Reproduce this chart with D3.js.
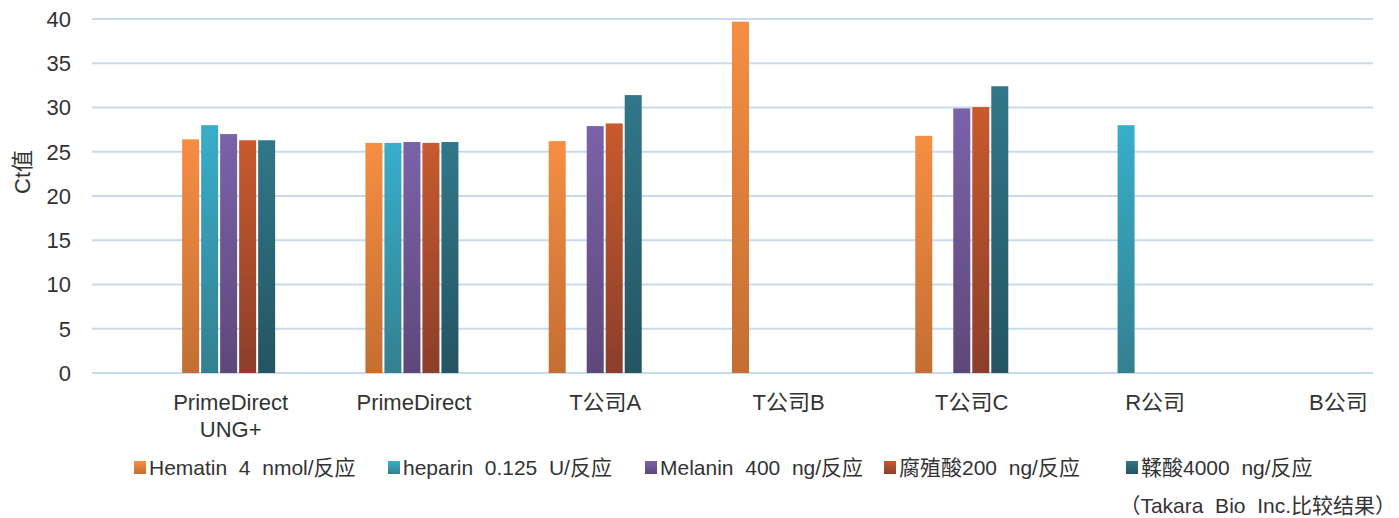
<!DOCTYPE html>
<html>
<head>
<meta charset="utf-8">
<script src="https://cdn.jsdelivr.net/npm/d3@7"></script>
<style>
  body { margin: 0; background: #fff; }
  text { font-family: "Liberation Sans", "Noto Sans CJK SC", sans-serif; fill: #333; }
</style>
</head>
<body>
<svg id="chart" width="1399" height="518"></svg>
<script>
// data
var categories = ["PrimeDirect UNG+", "PrimeDirect", "T公司A", "T公司B", "T公司C", "R公司", "B公司"];
var seriesNames = ["Hematin  4  nmol/反应", "heparin  0.125  U/反应", "Melanin  400  ng/反应", "腐殖酸200  ng/反应", "鞣酸4000  ng/反应"];
var hematin  = [26.4, 26.0, 26.2, 39.7, 26.8, null, null];
var heparin  = [28.0, 26.0, null, null, null, 28.0, null];
var melanin  = [27.0, 26.1, 27.9, null, 29.9, null, null];
var humic    = [26.3, 26.0, 28.2, null, 30.05, null, null];
var tannic   = [26.3, 26.1, 31.4, null, 32.4, null, null];
var yTicks = [0, 5, 10, 15, 20, 25, 30, 35, 40];

var seriesValues = [hematin, heparin, melanin, humic, tannic];
var colors = [
    ["#F68E42", "#C36E33"],
    ["#38AECB", "#33808F"],
    ["#7A62AA", "#5E4879"],
    ["#C85A2D", "#8B3E2A"],
    ["#317789", "#245462"]
];

var svg = d3.select("#chart");

var gridLeft = 92, gridRight = 1373;
var y = d3.scaleLinear().domain([0, 40]).range([373, 19]);
var x0 = d3.scaleBand().domain(categories).range([137, 1420]);
var x1 = d3.scaleBand().domain(d3.range(seriesNames.length)).range([-46.5, 46.5]).paddingInner(0.105);

// gradients
var defs = svg.append("defs");
colors.forEach(function (c, i) {
    var g = defs.append("linearGradient")
        .attr("id", "grad" + i)
        .attr("x1", 0).attr("y1", 0).attr("x2", 0).attr("y2", 1);
    g.append("stop").attr("offset", "0%").attr("stop-color", c[0]);
    g.append("stop").attr("offset", "100%").attr("stop-color", c[1]);
});

// gridlines
svg.append("g").selectAll("line")
    .data(yTicks)
    .enter()
    .append("line")
    .attr("x1", gridLeft)
    .attr("x2", gridRight)
    .attr("y1", function (d) { return y(d); })
    .attr("y2", function (d) { return y(d); })
    .attr("stroke", "#C8DAEB")
    .attr("stroke-width", 2);

// y tick labels
svg.append("g").selectAll("text")
    .data(yTicks)
    .enter()
    .append("text")
    .attr("x", 71)
    .attr("y", function (d) { return y(d); })
    .attr("dy", "0.36em")
    .attr("text-anchor", "end")
    .style("font-size", "22px")
    .text(function (d) { return d; });

// y axis title
svg.append("text")
    .attr("transform", "translate(30,172) rotate(-90)")
    .attr("text-anchor", "middle")
    .style("font-size", "22px")
    .text("Ct值");

// bars
var groups = svg.append("g").selectAll("g")
    .data(categories)
    .enter()
    .append("g")
    .attr("transform", function (d) { return "translate(" + (x0(d) + x0.bandwidth() / 2) + ",0)"; });

groups.selectAll("rect")
    .data(function (d, ci) {
        return seriesValues.map(function (vals, si) { return { s: si, v: vals[ci] }; })
            .filter(function (e) { return e.v != null; });
    })
    .enter()
    .append("rect")
    .attr("x", function (d) { return x1(d.s); })
    .attr("width", x1.bandwidth())
    .attr("y", function (d) { return y(d.v); })
    .attr("height", function (d) { return y(0) - y(d.v); })
    .attr("fill", function (d) { return "url(#grad" + d.s + ")"; });

// category labels
svg.append("g").selectAll("text")
    .data(categories)
    .enter()
    .append("text")
    .attr("x", function (d) { return x0(d) + x0.bandwidth() / 2 + (/公司/.test(d) ? 10 : 2); })
    .attr("y", 410)
    .attr("text-anchor", "middle")
    .style("font-size", "22px")
    .each(function (d) {
        var t = d3.select(this);
        var parts = d === "PrimeDirect UNG+" ? ["PrimeDirect", "UNG+"] : [d];
        parts.forEach(function (p, i) {
            t.append("tspan")
                .attr("x", t.attr("x"))
                .attr("dy", i === 0 ? 0 : 27)
                .text(p);
        });
    });

// legend
var legendX = [134, 388, 645, 884, 1126];
var legend = svg.append("g").selectAll("g")
    .data(seriesNames)
    .enter()
    .append("g")
    .attr("transform", function (d, i) { return "translate(" + legendX[i] + ",461)"; });

legend.append("rect")
    .attr("width", 12)
    .attr("height", 13)
    .attr("fill", function (d, i) { return "url(#grad" + i + ")"; });

legend.append("text")
    .attr("x", 15)
    .attr("y", 14)
    .style("font-size", "21px")
    .style("white-space", "pre")
    .text(function (d) { return d; });

// source note
svg.append("text")
    .attr("x", 1396)
    .attr("y", 513)
    .attr("text-anchor", "end")
    .style("font-size", "21px")
    .style("white-space", "pre")
    .text("（Takara  Bio  Inc.比较结果）");
</script>
</body>
</html>
